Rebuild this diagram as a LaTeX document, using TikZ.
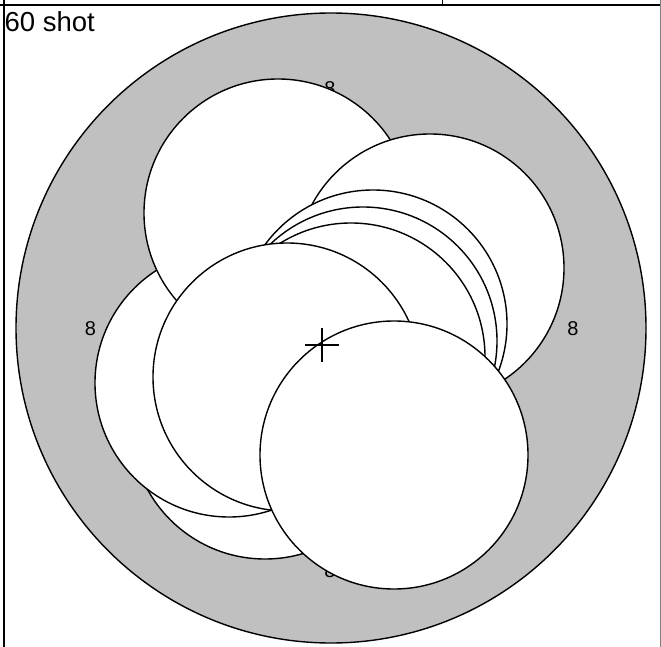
\documentclass[tikz,border=0pt]{standalone}
\usepackage{fontspec}
\setmainfont{Liberation Sans}
\definecolor{ringgray}{RGB}{192,192,192}
\begin{document}
\begin{tikzpicture}[x=1pt,y=-1pt,
  shot/.style={draw=black,fill=white,line width=1.4pt},
  ringlabel/.style={font=\fontsize{20}{20}\selectfont,inner sep=0pt},
  frameline/.style={line width=1.5pt,draw=black}]
\useasboundingbox (0,0) rectangle (661,647);
\fill[white] (0,0) rectangle (661,647);
% frame
\draw[frameline] (0,5) -- (661,5);
\draw[frameline] (4,0) -- (4,647);
\draw[line width=1pt] (442,0) -- (442,5);
\draw[gray,line width=0.8pt] (660,0) -- (660,647);
\node[anchor=base west,font=\fontsize{27.5}{27.5}\selectfont,inner sep=0pt] (title) at (4.5,32) {60 shot};
% target
\draw[fill=ringgray,line width=1.4pt] (331,328) circle (315pt);
\node[ringlabel] (l8t) at (330,89) {8};
\node[ringlabel] (l8b) at (330,571) {8};
\node[ringlabel] (l8l) at (90.5,329) {8};
\node[ringlabel] (l8r) at (573,329) {8};
% shots
\draw[shot] (265,425) circle (134pt);
\draw[shot] (229,383) circle (134pt);
\draw[shot] (278,213) circle (134pt);
\draw[shot] (430,268) circle (134pt);
\draw[shot] (373,324) circle (134pt);
\draw[shot] (363,341) circle (134pt);
\draw[shot] (351,357) circle (134pt);
\draw[shot] (287,377) circle (134pt);
\draw[shot] (394,455) circle (134pt);
% centre mark
\coordinate (ctr) at (322,345);
\draw[line width=1.3pt] ([xshift=-17pt]ctr) -- ([xshift=17pt]ctr);
\draw[line width=1.3pt] ([yshift=-17pt]ctr) -- ([yshift=17pt]ctr);
\end{tikzpicture}
\end{document}
